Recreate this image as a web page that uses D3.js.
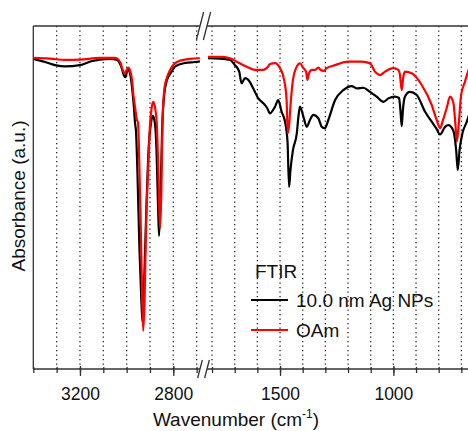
<!DOCTYPE html>
<html>
<head>
  <script src="https://d3js.org/d3.v7.min.js"></script>
  <style type="text/css">
    body { margin: 0; background: #fff; }
    svg text { font-family: "Liberation Sans", Arial, sans-serif; fill: #111; }
    .grid line { stroke: #222; stroke-width: 1.3; stroke-dasharray: 1.3,3.2; }
    .frame { stroke: #333; stroke-width: 1.3; fill: none; }
    .ax .domain { display: none; }
    .ax line { stroke: #333; stroke-width: 1.3; }
    .ax text { font-size: 17.5px; font-family: "Liberation Sans", Arial, sans-serif; }
  </style>
</head>
<body>
<svg id="chart" width="468" height="431"></svg>

<script type="text/javascript">
// wavenumber (cm-1) vs absorbance (a.u.)
const npLeft = [
  [3400,90.4],[3350,89.5],[3307,88.6],[3264,88.2],[3200,88.6],[3148,89.8],[3114,90.2],
  [3071,90.4],[3041,90.1],[3024,88.3],[3010,85.4],[3005,85.1],[2998,86.9],[2992,87.3],
  [2985,86.0],[2977,82.2],[2968,75.5],[2964,71.7],[2960,69.4],[2954,58.0],[2945,34.7],
  [2937,20.1],[2932,13.7],[2926,23.0],[2917,43.4],[2906,63.8],[2895,72.0],[2887,73.8],
  [2878,71.1],[2872,63.8],[2865,46.4],[2861,38.8],[2855,49.3],[2848,69.7],[2839,79.9],
  [2827,84.3],[2811,86.3],[2790,88.3],[2750,89.2],[2707,89.5],[2686,89.7]
];
const oamLeft = [
  [3400,90.7],[3329,90.5],[3264,90.1],[3200,90.2],[3114,90.7],[3050,90.7],[3028,89.5],
  [3013,86.6],[3007,86.2],[3000,87.2],[2993,87.9],[2986,87.2],[2977,84.3],[2971,79.9],
  [2964,76.4],[2957,72.9],[2951,71.7],[2947,63.8],[2940,43.4],[2934,23.0],[2929,11.1],
  [2923,20.1],[2917,40.5],[2908,58.0],[2900,71.1],[2893,76.1],[2886,77.9],[2878,76.1],
  [2871,71.7],[2863,55.1],[2857,41.1],[2851,52.2],[2846,72.6],[2838,81.9],[2828,84.8],
  [2814,87.2],[2793,89.1],[2771,89.9],[2728,90.4],[2686,90.6]
];
const npRight = [
  [1818,90.6],[1765,90.5],[1721,90.1],[1699,88.6],[1680,86.7],[1670,83.3],[1654,84.8],
  [1640,84.3],[1618,81.8],[1596,78.9],[1574,77.5],[1557,76.1],[1544,74.5],[1531,75.5],
  [1522,76.5],[1508,78.4],[1493,75.0],[1478,72.1],[1467,66.3],[1460,53.1],[1454,58.0],
  [1443,63.8],[1426,68.7],[1418,74.1],[1412,76.5],[1397,73.6],[1382,70.6],[1368,72.6],
  [1353,74.1],[1331,73.1],[1316,70.6],[1302,70.2],[1287,72.6],[1257,78.4],[1221,81.3],
  [1184,82.5],[1162,81.8],[1133,82.0],[1103,80.8],[1074,79.4],[1044,77.9],[1022,78.9],
  [993,79.4],[975,79.0],[969,75.5],[963,70.8],[958,75.5],[949,79.4],[927,80.8],[897,79.9],
  [860,75.0],[831,72.1],[812,70.3],[794,68.4],[772,70.6],[757,71.1],[735,69.4],[723,63.8],
  [716,58.0],[708,63.8],[695,68.8],[676,72.1],[666,74.1]
];
const oamRight = [
  [1818,91.0],[1765,91.0],[1721,90.6],[1691,89.6],[1672,88.9],[1647,88.1],[1610,87.2],
  [1574,87.2],[1559,87.7],[1544,88.9],[1522,89.2],[1500,87.7],[1487,85.7],[1478,82.8],
  [1471,78.4],[1466,68.7],[1460,71.1],[1452,78.4],[1443,84.3],[1429,87.8],[1412,89.1],
  [1397,87.7],[1385,86.6],[1379,84.3],[1372,86.3],[1359,87.2],[1346,87.2],[1331,87.9],
  [1321,87.2],[1309,86.9],[1294,87.7],[1257,88.6],[1199,89.6],[1140,89.6],[1103,89.1],
  [1081,86.7],[1059,85.7],[1037,86.7],[1000,87.7],[978,87.2],[971,85.7],[963,81.3],
  [957,84.8],[949,86.7],[919,86.2],[875,82.8],[831,77.0],[809,72.6],[794,70.2],[781,72.6],
  [765,76.0],[750,79.4],[735,77.5],[726,71.1],[720,66.3],[712,71.1],[701,79.9],[684,83.8],
  [671,86.6],[660,88.5]
];

const majorLeft = [3200, 2800];
const majorRight = [1500, 1000];
const gridLeft = d3.range(3300, 2699, -100);
const gridRight = d3.range(1800, 699, -100);
const minorLeft = d3.range(3400, 2699, -100);
const minorRight = d3.range(1800, 649, -100);

const legendItems = [
  {label: '10.0 nm Ag NPs', color: '#000'},
  {label: 'OAm', color: '#ff0000'}
];

const pTop = 26, pBottom = 369, pLeft = 33.3;

var svg = d3.select('#chart');

var xL = d3.scaleLinear().domain([3400, 2680]).range([pLeft, 201.3]);
var xR = d3.scaleLinear().domain([1820, 650]).range([207.5, 472.7]);
var y = d3.scaleLinear().domain([0, 100]).range([pBottom, pTop]);

// clip each segment
var defs = svg.append('defs');
defs.append('clipPath').attr('id', 'clipL').append('rect')
  .attr('x', xL(3400)).attr('y', pTop).attr('width', xL(2680) - xL(3400)).attr('height', pBottom - pTop);
defs.append('clipPath').attr('id', 'clipR').append('rect')
  .attr('x', xR(1820)).attr('y', pTop).attr('width', xR(650) - xR(1820)).attr('height', pBottom - pTop);

// dotted grid
var grid = svg.append('g').attr('class', 'grid');
grid.selectAll('.gl').data(gridLeft).enter().append('line')
  .attr('x1', d => xL(d)).attr('x2', d => xL(d)).attr('y1', pTop).attr('y2', pBottom);
grid.selectAll('.gr').data(gridRight).enter().append('line')
  .attr('x1', d => xR(d)).attr('x2', d => xR(d)).attr('y1', pTop).attr('y2', pBottom);

// spectra
function drawLine(data, xs, clip, color) {
  var line = d3.line().x(d => xs(d[0])).y(d => y(d[1])).curve(d3.curveMonotoneX);
  svg.append('path').datum(data)
    .attr('clip-path', 'url(#' + clip + ')')
    .attr('d', line)
    .attr('fill', 'none')
    .attr('stroke', color)
    .attr('stroke-width', 2.2)
    .attr('stroke-linejoin', 'round');
}
drawLine(npLeft, xL, 'clipL', '#000');
drawLine(npRight, xR, 'clipR', '#000');
drawLine(oamLeft, xL, 'clipL', '#ff0000');
drawLine(oamRight, xR, 'clipR', '#ff0000');

// frame with break
var bx1 = 200, bx2 = 207;
svg.append('line').attr('class', 'frame').attr('x1', pLeft).attr('x2', pLeft).attr('y1', pTop).attr('y2', pBottom);
[pTop, pBottom].forEach(function(yy) {
  svg.append('line').attr('class', 'frame').attr('x1', pLeft).attr('x2', bx1).attr('y1', yy).attr('y2', yy);
  svg.append('line').attr('class', 'frame').attr('x1', bx2).attr('x2', 480).attr('y1', yy).attr('y2', yy);
});
function slashes(yc, h) {
  [bx1, bx2].forEach(function(bx) {
    svg.append('line').attr('class', 'frame')
      .attr('x1', bx - h * 0.13).attr('y1', yc + h / 2)
      .attr('x2', bx + h * 0.13).attr('y2', yc - h / 2);
  });
}
slashes(pTop, 28);
slashes(pBottom, 18);

// ticks
function axis(xs, majors, minors) {
  var g = svg.append('g').attr('class', 'ax').attr('transform', 'translate(0,' + pBottom + ')');
  g.call(d3.axisBottom(xs).tickValues(minors).tickSizeInner(4).tickSizeOuter(0).tickFormat(''));
  g.selectAll('.tick line').attr('y1', -2);
  var gm = svg.append('g').attr('class', 'ax').attr('transform', 'translate(0,' + pBottom + ')');
  gm.call(d3.axisBottom(xs).tickValues(majors).tickSizeInner(7).tickSizeOuter(0)
    .tickPadding(12).tickFormat(d3.format('d')));
  gm.selectAll('.tick line').attr('y1', -3);
  gm.selectAll('text').attr('fill', '#111');
}
axis(xL, majorLeft, minorLeft);
axis(xR, majorRight, minorRight);

// labels
var xlab = svg.append('text').attr('x', 236).attr('y', 426)
  .attr('text-anchor', 'middle').style('font-size', '19px');
xlab.append('tspan').text('Wavenumber (cm');
xlab.append('tspan').attr('dy', -8).style('font-size', '12px').text('-1');
xlab.append('tspan').attr('dy', 8).text(')');

svg.append('text')
  .attr('transform', 'translate(25,196) rotate(-90)')
  .attr('text-anchor', 'middle').style('font-size', '19px')
  .text('Absorbance (a.u.)');

// legend
svg.append('text').attr('x', 255).attr('y', 278).style('font-size', '19px').text('FTIR');
var leg = svg.append('g').selectAll('g').data(legendItems).enter().append('g')
  .attr('transform', (d, i) => 'translate(251,' + (300 + i * 30) + ')');
leg.append('line').attr('x1', 0).attr('x2', 37).attr('stroke', d => d.color).attr('stroke-width', 1.8);
leg.append('text').attr('x', 45).attr('dy', '0.36em').style('font-size', '19px').text(d => d.label);
</script>
</body>
</html>
